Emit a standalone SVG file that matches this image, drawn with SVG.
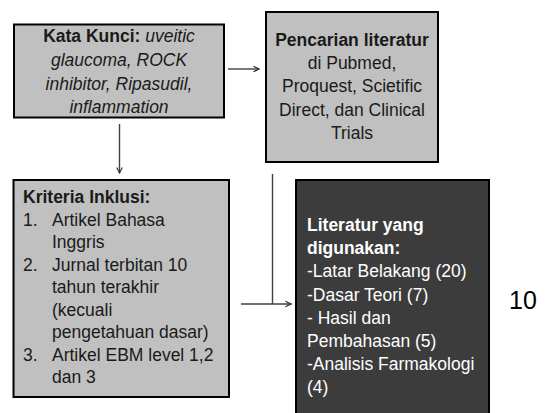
<svg xmlns="http://www.w3.org/2000/svg" width="548" height="413" viewBox="0 0 548 413">
<defs>
<marker id="arr" viewBox="0 0 10 10" refX="9" refY="5" markerWidth="7" markerHeight="7" markerUnits="userSpaceOnUse" orient="auto">
<path d="M1,1 L9,5 L1,9" fill="none" stroke="#333" stroke-width="1.6"/>
</marker>
<style>
.box{stroke:#000;stroke-width:2}
.gray{fill:#C0C0C0}
.dark{fill:#3C3C3C}
text{font-family:"Liberation Sans",Arial,sans-serif;font-size:17.5px;fill:#1a1a1a}
.w{fill:#fff}
.b{font-weight:bold}
.i{font-style:italic}
.c{text-anchor:middle}
.ln{stroke:#404040;stroke-width:1.4;fill:none}
</style>
</defs>
<rect width="548" height="413" fill="#fff"/>
<g id="connectors">
<line class="ln" x1="228" y1="69" x2="259" y2="69" marker-end="url(#arr)"/>
<line class="ln" x1="119.5" y1="124" x2="119.5" y2="173" marker-end="url(#arr)"/>
<line class="ln" x1="272.5" y1="174" x2="272.5" y2="304"/>
<line class="ln" x1="241" y1="304" x2="291" y2="304" marker-end="url(#arr)"/>
</g>
<g id="kata-kunci">
<rect class="box gray" x="14" y="24.5" width="210" height="93"/>
<text class="c" x="119" y="42"><tspan class="b">Kata Kunci:</tspan><tspan class="i"> uveitic</tspan></text>
<text class="c i" x="119" y="66">glaucoma, ROCK</text>
<text class="c i" x="119" y="90">inhibitor, Ripasudil,</text>
<text class="c i" x="119" y="113">inflammation</text>
</g>
<g id="pencarian">
<rect class="box gray" x="266" y="12" width="172" height="150"/>
<text class="c b" x="352" y="46">Pencarian literatur</text>
<text class="c" x="352" y="69">di Pubmed,</text>
<text class="c" x="352" y="92">Proquest, Scietific</text>
<text class="c" x="352" y="116">Direct, dan Clinical</text>
<text class="c" x="352" y="139">Trials</text>
</g>
<g id="kriteria">
<rect class="box gray" x="13.5" y="180" width="215.5" height="217"/>
<text class="b" x="23" y="203">Kriteria Inklusi:</text>
<text x="23" y="225.5">1.</text>
<text x="52" y="225.5">Artikel Bahasa</text>
<text x="52" y="248">Inggris</text>
<text x="23" y="270.5">2.</text>
<text x="52" y="270.5">Jurnal terbitan 10</text>
<text x="52" y="293">tahun terakhir</text>
<text x="52" y="315.5">(kecuali</text>
<text x="52" y="338">pengetahuan dasar)</text>
<text x="23" y="360.5">3.</text>
<text x="52" y="360.5">Artikel EBM level 1,2</text>
<text x="52" y="383">dan 3</text>
</g>
<g id="literatur">
<rect class="box dark" x="296" y="180" width="193" height="240"/>
<text class="w b" x="307" y="231">Literatur yang</text>
<text class="w b" x="307" y="254">digunakan:</text>
<text class="w" x="307" y="277">-Latar Belakang (20)</text>
<text class="w" x="307" y="300.5">-Dasar Teori (7)</text>
<text class="w" x="307" y="323.5">- Hasil dan</text>
<text class="w" x="307" y="346.5">Pembahasan (5)</text>
<text class="w" x="307" y="370">-Analisis Farmakologi</text>
<text class="w" x="307" y="393">(4)</text>
</g>
<text x="509" y="309" style="font-size:25px;fill:#000">10</text>
</svg>
